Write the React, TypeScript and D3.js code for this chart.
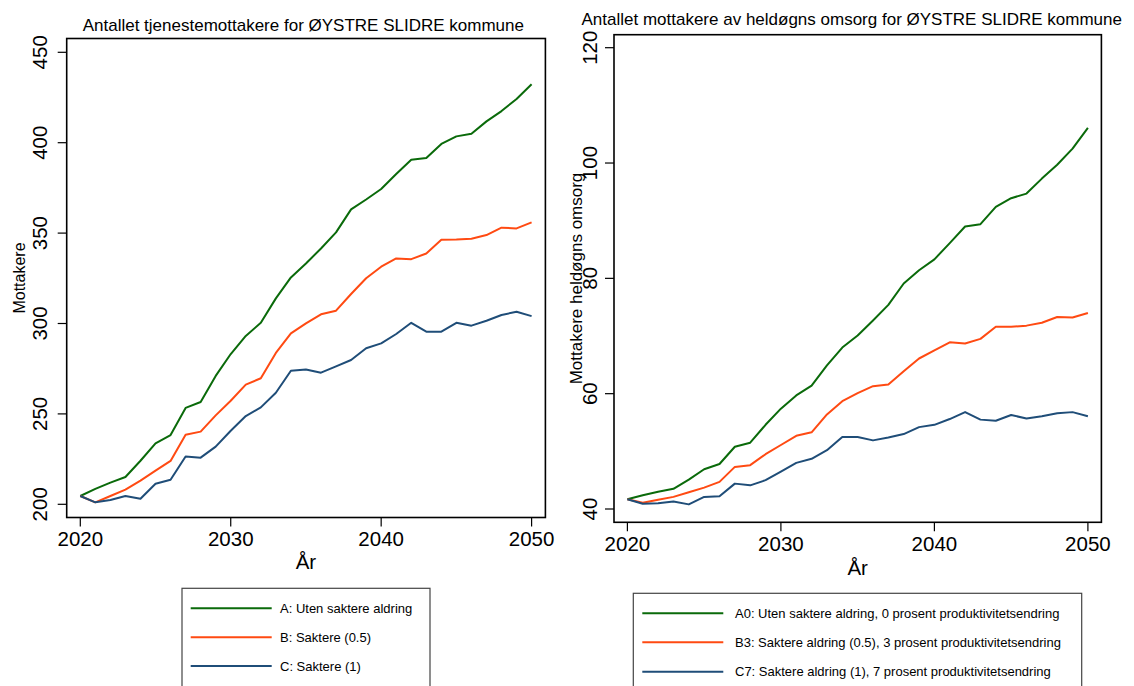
import React from "react";
import * as d3 from "d3";

const years = d3.range(2020, 2051);

// Left chart: tjenestemottakere
const leftA = [204.6, 208.5, 212, 215.1, 224.1, 233.7, 238.3, 253.3, 256.6, 271, 283.1, 293.1, 300.4, 313.9, 325.5, 333.2, 341.5, 350.4, 363.1, 368.6, 374.4, 382.7, 390.6, 391.5, 399.3, 403.5, 405, 411.8, 417.5, 424.2, 432.3];
const leftB = [204.6, 201.1, 204.6, 208.1, 213.1, 218.6, 224, 238.5, 240.2, 249.2, 257.3, 266.2, 269.7, 283.7, 294.5, 300.1, 305.1, 307.1, 316.3, 325, 331.4, 336, 335.6, 338.7, 346.3, 346.5, 346.9, 348.9, 353, 352.6, 355.9];
const leftC = [204.6, 201.1, 202.4, 204.6, 203.1, 211.4, 213.6, 226.4, 225.8, 231.9, 240.7, 248.8, 253.6, 261.7, 273.9, 274.6, 272.8, 276.3, 279.8, 286.3, 289, 294.2, 300.4, 295.5, 295.5, 300.4, 298.8, 301.5, 304.7, 306.5, 304.1];

// Right chart: heldøgns omsorg
const rightA = [41.7, 42.4, 43, 43.5, 45.1, 46.9, 47.8, 50.8, 51.5, 54.6, 57.4, 59.7, 61.4, 64.9, 68, 70.1, 72.7, 75.4, 79.1, 81.4, 83.3, 86.1, 89, 89.4, 92.4, 93.9, 94.7, 97.3, 99.7, 102.5, 106.1];
const rightB = [41.7, 41.1, 41.6, 42.1, 42.9, 43.7, 44.7, 47.3, 47.6, 49.5, 51.1, 52.7, 53.3, 56.4, 58.7, 60.1, 61.3, 61.6, 63.9, 66.1, 67.5, 68.9, 68.7, 69.5, 71.6, 71.6, 71.8, 72.3, 73.3, 73.2, 74];
const rightC = [41.7, 40.9, 41, 41.3, 40.8, 42.1, 42.2, 44.4, 44.1, 45, 46.5, 48, 48.7, 50.2, 52.5, 52.5, 51.9, 52.4, 53, 54.2, 54.6, 55.6, 56.8, 55.5, 55.3, 56.3, 55.7, 56.1, 56.6, 56.8, 56.1];

const xTicks = [2020, 2030, 2040, 2050];
const leftYTicks = [200, 250, 300, 350, 400, 450];
const rightYTicks = [40, 60, 80, 100, 120];

const leftLegend = ["A: Uten saktere aldring", "B: Saktere (0.5)", "C: Saktere (1)"];
const rightLegend = [
  "A0: Uten saktere aldring, 0 prosent produktivitetsendring",
  "B3: Saktere aldring (0.5), 3 prosent produktivitetsendring",
  "C7: Saktere aldring (1), 7 prosent produktivitetsendring",
];

const colors = ["#0a6a0a", "#ff4a12", "#1f4d78"];
const FONT = "'Liberation Sans', Arial, Helvetica, sans-serif";

type PanelProps = {
  series: number[][];
  xRange: [number, number];
  yDomain: [number, number];
  yRange: [number, number];
  frame: { x0: number; x1: number; y0: number; y1: number };
  yTicks: number[];
  yTickLabelOffset: number;
  title: string;
  titleX: number;
  titleY: number;
  yLabel: string;
  yLabelX: number;
  yLabelSize: number;
  xLabelOffset: number;
};

function Panel(p: PanelProps) {
  const x = d3.scaleLinear().domain([2020, 2050]).range(p.xRange);
  const y = d3.scaleLinear().domain(p.yDomain).range(p.yRange);
  const line = d3
    .line<number>()
    .x((_, i) => x(years[i]))
    .y((d) => y(d));
  const { x0, x1, y0, y1 } = p.frame;
  const cy = (y0 + y1) / 2;
  return (
    <g>
      <text x={p.titleX} y={p.titleY} textAnchor="middle" fontSize={17} fontFamily={FONT} fill="#000">
        {p.title}
      </text>
      {p.series.map((s, i) => (
        <path key={i} d={line(s) || ""} fill="none" stroke={colors[i]} strokeWidth={2} strokeLinejoin="round" />
      ))}
      <rect x={x0} y={y0} width={x1 - x0} height={y1 - y0} fill="none" stroke="#000" strokeWidth={1.6} />
      {xTicks.map((t) => (
        <g key={t}>
          <line x1={x(t)} x2={x(t)} y1={y1} y2={y1 + 9} stroke="#000" strokeWidth={1.2} />
          <text x={x(t)} y={y1 + 28.5} textAnchor="middle" fontSize={20.5} fontFamily={FONT} fill="#000">
            {t}
          </text>
        </g>
      ))}
      {p.yTicks.map((t) => (
        <g key={t}>
          <line x1={x0 - 9} x2={x0} y1={y(t)} y2={y(t)} stroke="#000" strokeWidth={1.2} />
          <text
            transform={`translate(${x0 - p.yTickLabelOffset},${y(t)}) rotate(-90)`}
            textAnchor="middle"
            fontSize={20.5}
            fontFamily={FONT}
            fill="#000"
          >
            {t}
          </text>
        </g>
      ))}
      <text x={(x(2020) + x(2050)) / 2} y={y1 + p.xLabelOffset} textAnchor="middle" fontSize={20.5} fontFamily={FONT} fill="#000">
        År
      </text>
      <text
        transform={`translate(${p.yLabelX},${cy}) rotate(-90)`}
        textAnchor="middle"
        fontSize={p.yLabelSize}
        fontFamily={FONT}
        fill="#000"
      >
        {p.yLabel}
      </text>
    </g>
  );
}

function Legend(props: { x0: number; x1: number; top: number; lineX0: number; lineX1: number; textX: number; rows: number[]; labels: string[] }) {
  return (
    <g>
      <rect x={props.x0} y={props.top} width={props.x1 - props.x0} height={200} fill="#fff" stroke="#444" strokeWidth={1.2} />
      {props.labels.map((l, i) => (
        <g key={i}>
          <line x1={props.lineX0} x2={props.lineX1} y1={props.rows[i]} y2={props.rows[i]} stroke={colors[i]} strokeWidth={2} />
          <text x={props.textX} y={props.rows[i] + 4.5} fontSize={13} fontFamily={FONT} fill="#000">
            {l}
          </text>
        </g>
      ))}
    </g>
  );
}

export default function App() {
  return (
    <svg
      width={1134}
      height={686}
      style={{ position: "absolute", left: 0, top: 0, display: "block", background: "#fff" }}
    >
      <rect x={0} y={0} width={1134} height={686} fill="#fff" />
      <Panel
        series={[leftA, leftB, leftC]}
        xRange={[80.3, 531.6]}
        yDomain={[200, 450]}
        yRange={[504.3, 52.3]}
        frame={{ x0: 66.7, x1: 545.4, y0: 38.5, y1: 517.5 }}
        yTicks={leftYTicks}
        yTickLabelOffset={20}
        title="Antallet tjenestemottakere for ØYSTRE SLIDRE kommune"
        titleX={303.3}
        titleY={31}
        yLabel="Mottakere"
        yLabelX={25}
        yLabelSize={16}
        xLabelOffset={51}
      />
      <Panel
        series={[rightA, rightB, rightC]}
        xRange={[627.4, 1087.9]}
        yDomain={[40, 120]}
        yRange={[509, 47.7]}
        frame={{ x0: 614, x1: 1101.4, y0: 34.7, y1: 522.3 }}
        yTicks={rightYTicks}
        yTickLabelOffset={17.5}
        title="Antallet mottakere av heldøgns omsorg for ØYSTRE SLIDRE kommune"
        titleX={851.7}
        titleY={25}
        yLabel="Mottakere heldøgns omsorg"
        yLabelX={582}
        yLabelSize={17}
        xLabelOffset={52.5}
      />
      <Legend x0={182} x1={430} top={588.3} lineX0={190.7} lineX1={271.7} textX={280} rows={[608.3, 637.3, 666]} labels={leftLegend} />
      <Legend x0={633.3} x1={1081.7} top={593.3} lineX0={642.3} lineX1={723.3} textX={735} rows={[613.3, 642.3, 671.7]} labels={rightLegend} />
    </svg>
  );
}
